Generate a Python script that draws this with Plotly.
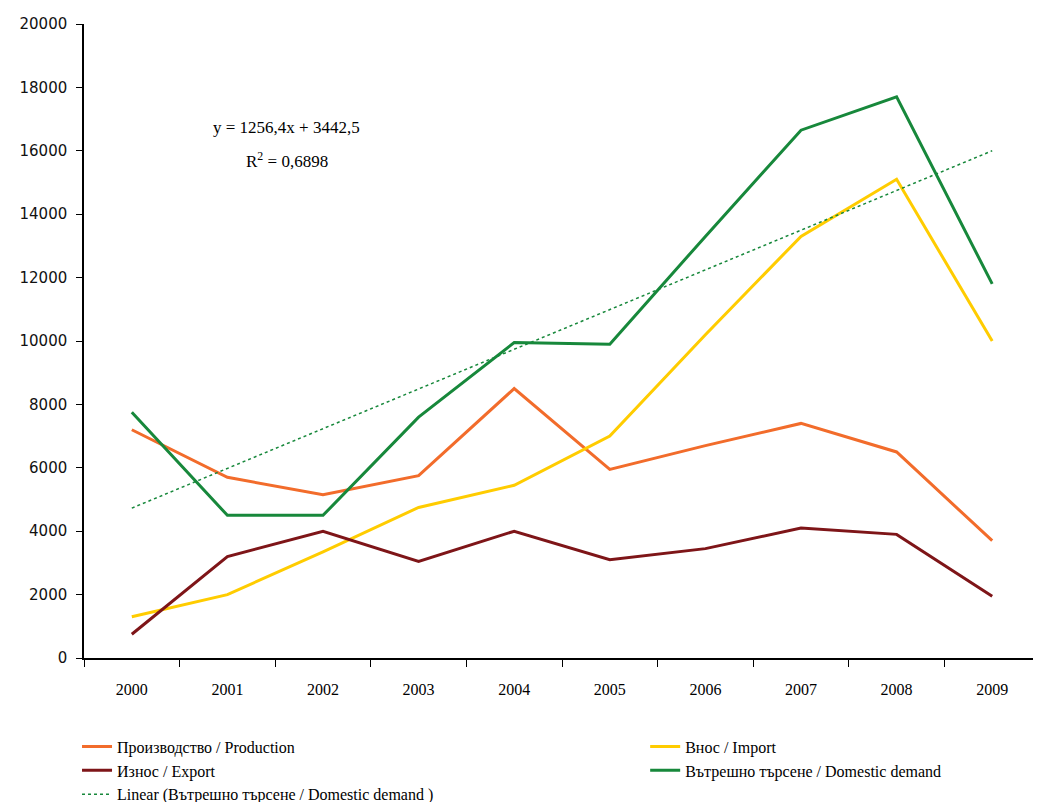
import numpy as np
import plotly.graph_objects as go

years = ["2000", "2001", "2002", "2003", "2004", "2005", "2006", "2007", "2008", "2009"]
production = [7200, 5700, 5150, 5750, 8500, 5950, 6700, 7400, 6500, 3700]
imports = [1300, 2000, 3350, 4750, 5450, 7000, 10200, 13300, 15100, 10000]
exports = [750, 3200, 4000, 3050, 4000, 3100, 3450, 4100, 3900, 1950]
domestic = [7750, 4500, 4500, 7600, 9950, 9900, 13300, 16650, 17700, 11800]

names = ["Производство / Production", "Внос / Import", "Износ / Export",
         "Вътрешно търсене / Domestic demand",
         "Linear (Вътрешно търсене / Domestic demand )"]
colors = ["#F26C2B", "#FFCC00", "#7E1518", "#17883B"]
legend_ids = ["legend", "legend2", "legend", "legend2"]
eq_text = "y = 1256,4x + 3442,5"
r2_text = "R<sup>2</sup> = 0,6898"

# linear trendline fitted to domestic demand (x = 1..n)
xi = np.arange(1, len(years) + 1)
slope, intercept = np.polyfit(xi, domestic, 1)
trend = slope * xi + intercept

fig = go.Figure()
for vals, name, col, lg in zip([production, imports, exports, domestic], names[:4], colors, legend_ids):
    fig.add_trace(go.Scatter(x=years, y=vals, mode="lines", name=name, legend=lg,
                             line=dict(color=col, width=3)))
fig.add_trace(go.Scatter(x=years, y=trend, mode="lines", name=names[4], legend="legend",
                         line=dict(color=colors[3], width=1.5, dash="dot")))

fig.add_annotation(x=1.62, y=16750, xref="x", yref="y", text=eq_text, showarrow=False,
                   font=dict(family="Liberation Serif", size=17, color="#000"))
fig.add_annotation(x=1.62, y=15700, xref="x", yref="y", text=r2_text, showarrow=False,
                   font=dict(family="Liberation Serif", size=17, color="#000"))

leg_font = dict(family="Liberation Serif", size=16, color="#000")
fig.update_layout(
    width=1033, height=794,
    margin=dict(l=76, r=1, t=16, b=144, autoexpand=False),
    paper_bgcolor="white", plot_bgcolor="white",
    showlegend=True,
    legend=dict(orientation="v", x=-0.0073, xanchor="left", y=-0.113, yanchor="top",
                tracegroupgap=0, font=leg_font, itemwidth=30, bgcolor="rgba(0,0,0,0)"),
    legend2=dict(orientation="v", x=0.587, xanchor="left", y=-0.113, yanchor="top",
                 tracegroupgap=0, font=leg_font, itemwidth=30, bgcolor="rgba(0,0,0,0)"),
    xaxis=dict(type="category", range=[-0.5, 9.5], showline=True, linecolor="#000",
               linewidth=1.5, ticks="outside", tickson="boundaries", ticklen=7,
               tickcolor="#000", showgrid=False, zeroline=False, ticklabelstandoff=16,
               tickfont=dict(family="Liberation Serif", size=16, color="#000")),
    yaxis=dict(range=[0, 20000], dtick=2000, tickformat="d", showline=True, linecolor="#000",
               linewidth=1.5, ticks="outside", ticklen=6, tickcolor="#000",
               showgrid=False, zeroline=False, ticklabelstandoff=6,
               tickfont=dict(family="DejaVu Sans", size=15, color="#111")),
)

fig.write_html("out.html")
